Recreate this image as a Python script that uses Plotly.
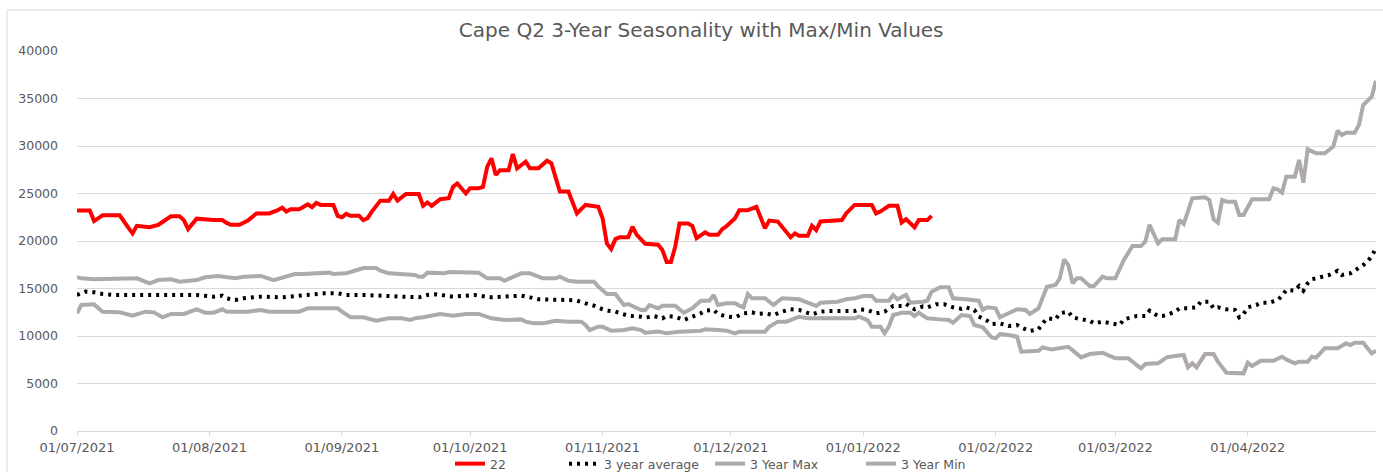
import plotly.graph_objects as go

# ---------------- data ----------------
red_dates = ["2021-07-01","2021-07-04","2021-07-05","2021-07-07","2021-07-11","2021-07-12","2021-07-13","2021-07-14","2021-07-15","2021-07-18",
"2021-07-20","2021-07-21","2021-07-23","2021-07-25","2021-07-26","2021-07-27","2021-07-29","2021-08-02","2021-08-04","2021-08-05",
"2021-08-06","2021-08-08","2021-08-10","2021-08-12","2021-08-15","2021-08-17","2021-08-18","2021-08-19","2021-08-20","2021-08-22",
"2021-08-24","2021-08-25","2021-08-26","2021-08-27","2021-08-30","2021-08-31","2021-09-01","2021-09-02","2021-09-03","2021-09-05",
"2021-09-06","2021-09-07","2021-09-08","2021-09-10","2021-09-12","2021-09-13","2021-09-14","2021-09-16","2021-09-19","2021-09-20",
"2021-09-21","2021-09-22","2021-09-24","2021-09-26","2021-09-27","2021-09-28","2021-09-30","2021-10-01","2021-10-03","2021-10-04",
"2021-10-05","2021-10-06","2021-10-07","2021-10-08","2021-10-10","2021-10-11","2021-10-12","2021-10-13","2021-10-14","2021-10-15",
"2021-10-17","2021-10-19","2021-10-20","2021-10-22","2021-10-24","2021-10-26","2021-10-28","2021-10-31","2021-11-01","2021-11-02",
"2021-11-03","2021-11-04","2021-11-05","2021-11-07","2021-11-08","2021-11-09","2021-11-11","2021-11-14","2021-11-15","2021-11-16",
"2021-11-17","2021-11-18","2021-11-19","2021-11-21","2021-11-22","2021-11-23","2021-11-25","2021-11-26","2021-11-28","2021-11-29",
"2021-11-30","2021-12-02","2021-12-03","2021-12-05","2021-12-07","2021-12-09","2021-12-10","2021-12-12","2021-12-14","2021-12-15",
"2021-12-16","2021-12-17","2021-12-19","2021-12-20","2021-12-21","2021-12-22","2021-12-27","2021-12-28","2021-12-30","2022-01-03",
"2022-01-04","2022-01-05","2022-01-07","2022-01-09","2022-01-10","2022-01-11","2022-01-13","2022-01-14","2022-01-16","2022-01-17"]
red_values = [23200,23200,22100,22700,22700,22000,21400,20800,21600,21450,
21700,22000,22600,22600,22200,21250,22350,22200,22200,21900,
21700,21700,22150,22900,22900,23250,23500,23100,23350,23350,
23850,23550,24000,23800,23800,22650,22500,22850,22650,22650,
22200,22400,23100,24250,24250,24950,24250,24950,24950,23700,
24050,23700,24400,24500,25700,26050,25000,25550,25550,25700,
27800,28700,26950,27450,27450,29150,27650,28000,28350,27650,
27650,28450,28200,25200,25200,22900,23800,23600,22400,19750,
19150,20200,20400,20400,21500,20650,19700,19600,19050,17800,
17800,19400,21850,21850,21600,20300,20900,20650,20650,21250,
21550,22400,23250,23250,23600,21350,22150,22050,20850,20400,
20800,20550,20550,21600,21150,22050,22200,22900,23800,23800,
22900,23100,23700,23700,21950,22300,21450,22200,22200,22650]

avg_dates = ["2021-07-01","2021-07-03","2021-07-05","2021-07-07","2021-07-10","2021-07-14","2021-07-20","2021-07-29","2021-08-02","2021-08-04",
"2021-08-05","2021-08-07","2021-08-09","2021-08-13","2021-08-18","2021-08-20","2021-08-24","2021-08-28","2021-08-31","2021-09-02",
"2021-09-06","2021-09-10","2021-09-16","2021-09-17","2021-09-19","2021-09-21","2021-09-23","2021-09-27","2021-10-02","2021-10-06",
"2021-10-10","2021-10-13","2021-10-15","2021-10-17","2021-10-24","2021-10-26","2021-10-28","2021-10-30","2021-11-01","2021-11-02",
"2021-11-04","2021-11-06","2021-11-07","2021-11-10","2021-11-11","2021-11-13","2021-11-15","2021-11-16","2021-11-18","2021-11-20",
"2021-11-22","2021-11-24","2021-11-25","2021-11-27","2021-11-28","2021-11-30","2021-12-02","2021-12-04","2021-12-06","2021-12-07",
"2021-12-09","2021-12-11","2021-12-13","2021-12-15","2021-12-17","2021-12-19","2021-12-20","2021-12-22","2021-12-24","2021-12-30",
"2021-12-31","2022-01-02","2022-01-04","2022-01-06","2022-01-08","2022-01-10","2022-01-11","2022-01-13","2022-01-15","2022-01-16",
"2022-01-18","2022-01-20","2022-01-22","2022-01-24","2022-01-25","2022-01-27","2022-01-28","2022-01-30","2022-01-31","2022-02-02",
"2022-02-04","2022-02-06","2022-02-07","2022-02-09","2022-02-11","2022-02-12","2022-02-13","2022-02-15","2022-02-16","2022-02-18",
"2022-02-19","2022-02-21","2022-02-23","2022-02-24","2022-02-26","2022-02-28","2022-03-02","2022-03-03","2022-03-05","2022-03-06",
"2022-03-08","2022-03-09","2022-03-11","2022-03-12","2022-03-13","2022-03-15","2022-03-16","2022-03-18","2022-03-20","2022-03-21",
"2022-03-23","2022-03-24","2022-03-25","2022-03-27","2022-03-29","2022-03-30","2022-03-31","2022-04-01","2022-04-03","2022-04-04",
"2022-04-06","2022-04-08","2022-04-09","2022-04-10","2022-04-12","2022-04-13","2022-04-14","2022-04-15","2022-04-16","2022-04-18",
"2022-04-20","2022-04-22","2022-04-23","2022-04-25","2022-04-26","2022-04-28","2022-04-29","2022-04-30","2022-05-01"]
avg_values = [14320,14670,14600,14420,14320,14320,14250,14320,14140,14250,
13970,13790,13970,14140,14070,14140,14320,14490,14490,14320,
14320,14250,14210,14140,14070,14320,14390,14140,14320,14070,
14140,14250,14070,13860,13790,13720,13440,13190,12810,12670,
12560,12210,12140,12030,11930,12100,11860,12100,12030,11680,
12030,12390,12670,12740,12320,12050,11970,12390,12490,12320,
12390,12210,12560,12810,12740,12450,12280,12560,12630,12630,
12810,12740,12390,12560,13160,13160,13370,12810,13120,13020,
13330,13330,13020,12860,13020,12740,12060,11610,11260,11330,
11050,11160,10880,10530,10700,11330,11860,11750,12390,12560,
11970,11750,11610,11330,11510,11330,11160,11750,11970,12100,
12100,12670,12100,12100,12210,12560,12910,12910,13020,13610,
13610,12910,13020,12810,12740,11970,12320,13020,13260,13510,
13510,13790,14210,14840,14770,15260,14770,15550,15970,16180,
16420,16870,16420,16600,16870,17470,17820,18420,19230]

max_dates = ["2021-07-01","2021-07-02","2021-07-05","2021-07-10","2021-07-15","2021-07-18","2021-07-20","2021-07-23","2021-07-25","2021-07-29",
"2021-07-31","2021-08-03","2021-08-07","2021-08-09","2021-08-13","2021-08-16","2021-08-18","2021-08-21","2021-08-23","2021-08-26",
"2021-08-29","2021-08-30","2021-09-02","2021-09-04","2021-09-06","2021-09-09","2021-09-10","2021-09-12","2021-09-17","2021-09-18",
"2021-09-19","2021-09-20","2021-09-21","2021-09-25","2021-09-26","2021-10-03","2021-10-05","2021-10-08","2021-10-09","2021-10-12",
"2021-10-13","2021-10-15","2021-10-18","2021-10-21","2021-10-22","2021-10-24","2021-10-26","2021-10-30","2021-10-31","2021-11-02",
"2021-11-04","2021-11-06","2021-11-07","2021-11-10","2021-11-11","2021-11-12","2021-11-14","2021-11-15","2021-11-18","2021-11-20",
"2021-11-22","2021-11-24","2021-11-26","2021-11-27","2021-11-28","2021-11-30","2021-12-02","2021-12-03","2021-12-04","2021-12-05",
"2021-12-06","2021-12-09","2021-12-11","2021-12-13","2021-12-17","2021-12-19","2021-12-21","2021-12-22","2021-12-26","2021-12-28",
"2021-12-30","2022-01-01","2022-01-03","2022-01-04","2022-01-07","2022-01-08","2022-01-09","2022-01-11","2022-01-12","2022-01-15",
"2022-01-16","2022-01-17","2022-01-19","2022-01-21","2022-01-22","2022-01-25","2022-01-26","2022-01-28","2022-01-29","2022-01-30",
"2022-02-01","2022-02-02","2022-02-04","2022-02-06","2022-02-08","2022-02-09","2022-02-11","2022-02-13","2022-02-15","2022-02-16",
"2022-02-17","2022-02-18","2022-02-19","2022-02-20","2022-02-21","2022-02-23","2022-02-24","2022-02-26","2022-02-27","2022-03-01",
"2022-03-03","2022-03-05","2022-03-07","2022-03-08","2022-03-09","2022-03-11","2022-03-12","2022-03-15","2022-03-16","2022-03-17",
"2022-03-19","2022-03-22","2022-03-23","2022-03-24","2022-03-25","2022-03-26","2022-03-27","2022-03-29","2022-03-30","2022-03-31",
"2022-04-02","2022-04-06","2022-04-07","2022-04-08","2022-04-09","2022-04-10","2022-04-12","2022-04-13","2022-04-14","2022-04-15",
"2022-04-17","2022-04-19","2022-04-21","2022-04-22","2022-04-23","2022-04-24","2022-04-26","2022-04-27","2022-04-28","2022-04-30",
"2022-05-01"]
max_values = [16180,16070,15970,16070,16070,15550,15890,15970,15720,15890,
16180,16320,16070,16240,16320,15890,16180,16530,16530,16600,
16670,16530,16600,16870,17160,17160,16870,16600,16530,16420,
16240,16240,16670,16600,16740,16670,16070,16070,15820,16420,
16600,16600,16070,16070,16240,15820,15720,15720,15190,14420,
14420,13260,13370,12740,12740,13260,12910,13190,13190,12450,
12910,13720,13720,14320,13260,13440,13440,13200,13020,14420,
13970,13970,13260,13970,13860,13510,13160,13510,13610,13860,
13970,14210,14210,13720,13720,14320,13860,14320,13510,13610,
13720,14670,15130,15130,13970,13860,13790,13720,12740,13020,
12910,11970,12390,12810,12740,12320,12910,15190,15370,16070,
18070,17470,15550,16070,16070,15260,15260,16240,16070,16070,
18000,19470,19470,19930,21700,19760,20180,20180,22210,21790,
24490,24600,24320,22280,21930,24320,24140,24140,22740,22740,
24390,24390,25550,25440,25090,26770,26770,28530,26140,29650,
29230,29230,29930,31610,31160,31400,31400,32210,34320,35190,
36870]

min_dates = ["2021-07-01","2021-07-02","2021-07-05","2021-07-07","2021-07-11","2021-07-14","2021-07-17","2021-07-19","2021-07-21","2021-07-23",
"2021-07-26","2021-07-29","2021-07-31","2021-08-02","2021-08-04","2021-08-05","2021-08-10","2021-08-13","2021-08-15","2021-08-22",
"2021-08-24","2021-08-31","2021-09-01","2021-09-03","2021-09-06","2021-09-09","2021-09-12","2021-09-15","2021-09-17","2021-09-18",
"2021-09-20","2021-09-24","2021-09-27","2021-09-30","2021-10-03","2021-10-06","2021-10-09","2021-10-13","2021-10-14","2021-10-16",
"2021-10-18","2021-10-21","2021-10-24","2021-10-27","2021-10-28","2021-10-29","2021-10-31","2021-11-01","2021-11-03","2021-11-06",
"2021-11-08","2021-11-10","2021-11-11","2021-11-13","2021-11-14","2021-11-16","2021-11-19","2021-11-24","2021-11-25","2021-11-28",
"2021-11-30","2021-12-02","2021-12-03","2021-12-09","2021-12-10","2021-12-12","2021-12-14","2021-12-16","2021-12-17","2021-12-19",
"2021-12-30","2021-12-31","2022-01-02","2022-01-03","2022-01-05","2022-01-06","2022-01-07","2022-01-08","2022-01-10","2022-01-12",
"2022-01-13","2022-01-14","2022-01-16","2022-01-19","2022-01-21","2022-01-22","2022-01-24","2022-01-26","2022-01-27","2022-01-29",
"2022-01-31","2022-02-01","2022-02-02","2022-02-04","2022-02-06","2022-02-07","2022-02-11","2022-02-12","2022-02-14","2022-02-18",
"2022-02-21","2022-02-23","2022-02-25","2022-02-26","2022-03-01","2022-03-04","2022-03-07","2022-03-08","2022-03-11","2022-03-13",
"2022-03-15","2022-03-17","2022-03-18","2022-03-19","2022-03-20","2022-03-22","2022-03-24","2022-03-25","2022-03-27","2022-03-31",
"2022-04-01","2022-04-02","2022-04-04","2022-04-07","2022-04-09","2022-04-10","2022-04-12","2022-04-13","2022-04-15","2022-04-16",
"2022-04-17","2022-04-19","2022-04-22","2022-04-24","2022-04-25","2022-04-26","2022-04-28","2022-04-30","2022-05-01"]
min_values = [12390,13260,13330,12560,12490,12140,12560,12490,11970,12320,
12320,12810,12450,12450,12810,12560,12560,12740,12560,12560,
12910,12910,12560,11970,11970,11610,11860,11860,11680,11860,
11970,12320,12140,12320,12320,11860,11680,11750,11510,11330,
11330,11610,11510,11510,11160,10630,10980,10980,10560,10630,
10810,10630,10350,10460,10460,10280,10460,10560,10700,10630,
10560,10280,10460,10460,10980,11510,11510,11860,12030,11860,
11860,12030,11680,10980,10980,10280,10980,12210,12450,12450,
12100,12450,11860,11750,11680,11400,12200,12100,11160,10910,
9860,9750,10210,10100,9930,8350,8450,8800,8590,8870,
7750,8100,8170,8240,7650,7650,6600,7050,7120,7750,
7890,8000,6700,7120,6700,8100,8100,7290,6140,6070,
7190,6840,7400,7400,7820,7540,7120,7290,7290,7820,
7720,8700,8700,9230,9050,9300,9300,8170,8450]

tick_dates = ["2021-07-01","2021-08-01","2021-09-01","2021-10-01","2021-11-01","2021-12-01",
              "2022-01-01","2022-02-01","2022-03-01","2022-04-01"]
tick_labels = ["01/07/2021","01/08/2021","01/09/2021","01/10/2021","01/11/2021","01/12/2021",
               "01/01/2022","01/02/2022","01/03/2022","01/04/2022"]

# ---------------- figure ----------------
GREY = "#AEAAAA"
TXT = "#595959"
FONT = "DejaVu Sans"
W, H = 1383, 472

fig = go.Figure()
fig.add_trace(go.Scatter(x=max_dates, y=max_values, mode="lines", name="3 Year Max",
                         line=dict(color=GREY, width=4), legend="legend3"))
fig.add_trace(go.Scatter(x=min_dates, y=min_values, mode="lines", name="3 Year Min",
                         line=dict(color=GREY, width=4), legend="legend4"))
fig.add_trace(go.Scatter(x=avg_dates, y=avg_values, mode="lines", name="3 year average",
                         line=dict(color="#000000", width=4, dash="3px,5px"), legend="legend2"))
fig.add_trace(go.Scatter(x=red_dates, y=red_values, mode="lines", name="22",
                         line=dict(color="#FF0000", width=4), legend="legend"))

def leg(px):
    return dict(orientation="h", x=px / W, xref="container", xanchor="left",
                y=1 - 464 / H, yref="container", yanchor="middle",
                font=dict(family=FONT, size=12.5, color=TXT), bgcolor="rgba(0,0,0,0)",
                borderwidth=0)

fig.update_layout(
    width=W, height=H,
    margin=dict(l=77, r=7, t=51, b=41, autoexpand=False),
    paper_bgcolor="white", plot_bgcolor="white",
    font=dict(family=FONT, size=13, color=TXT),
    title=dict(text="Cape Q2 3-Year Seasonality with Max/Min Values",
               font=dict(family=FONT, size=20, color=TXT),
               x=0.507, xref="container", xanchor="center",
               y=1 - 30 / H, yref="container", yanchor="middle"),
    showlegend=True,
    legend=leg(450), legend2=leg(564), legend3=leg(710), legend4=leg(861),
    xaxis=dict(type="date", range=["2021-07-01", "2022-05-01"],
               tickvals=tick_dates, ticktext=tick_labels,
               showgrid=False, zeroline=False,
               showline=True, linecolor="#D9D9D9", linewidth=1,
               ticks="outside", ticklen=4, tickcolor="#D9D9D9",
               tickfont=dict(family=FONT, size=13, color=TXT)),
    yaxis=dict(range=[0, 40000], dtick=5000, tick0=0, tickformat="d",
               showgrid=True, gridcolor="#D9D9D9", gridwidth=1,
               zeroline=False, showline=False, ticks="",
               ticklabelstandoff=18,
               tickfont=dict(family=FONT, size=12.5, color=TXT)),
    shapes=[dict(type="rect", xref="paper", yref="paper",
                 x0=-0.0539, x1=1.2, y0=-0.4, y1=1.108,
                 line=dict(color="#D9D9D9", width=1), fillcolor="rgba(0,0,0,0)", layer="below")],
)

fig.write_html("out.html", config={"displayModeBar": False},
               post_script="document.body.style.margin='0';document.body.style.overflow='hidden';")
